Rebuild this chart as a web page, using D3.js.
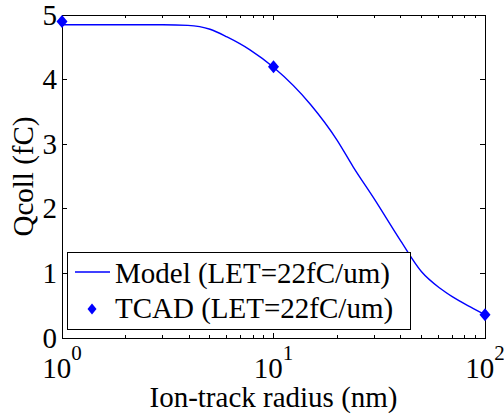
<!DOCTYPE html>
<html>
<meta charset="utf-8">
<body style="margin:0">
<svg width="504" height="418"></svg>

<script src="https://cdn.jsdelivr.net/npm/d3@7"></script>
<script>

var margin = {top: 15, right: 19, bottom: 80, left: 62},
    width = 504 - margin.left - margin.right,
    height = 418 - margin.top - margin.bottom;

var FONT = "'Liberation Serif'";

// model curve
var modelR = [1, 2, 3, 3.94, 5.01, 6.03, 7.74, 10, 15, 20, 23.8, 30, 40, 50, 61.3, 70, 87.7, 100];
var modelQ = [4.85, 4.85, 4.85, 4.84, 4.78, 4.66, 4.46, 4.19, 3.61, 3.06, 2.65, 2.15, 1.50, 1.03, 0.77, 0.64, 0.46, 0.36];

// TCAD points
var tcadR = [1, 10, 100];
var tcadQ = [4.9, 4.2, 0.36];

var yTicks = [0, 1, 2, 3, 4, 5];
var xDecades = [1, 10, 100];
var xExponents = ["0", "1", "2"];

var svg = d3.select("svg")
  .append("g").attr("transform", "translate(" + margin.left + "," + margin.top + ")");

var xScale = d3.scaleLog().domain([1, 100]).range([0, width]);
var yScale = d3.scaleLinear().domain([0, 5]).range([height, 0]);

var minorTicks = [];
[1, 10].forEach(function(d) {
  for (var k = 2; k <= 9; k++) minorTicks.push(d * k);
});

// frame
svg.append("rect")
  .attr("width", width).attr("height", height)
  .attr("fill", "none").attr("stroke", "#000").attr("stroke-width", 1)
  .attr("shape-rendering", "crispEdges");

// ticks (inward, bottom + top, left + right)
function tickSet(vals, len, horiz) {
  var g = svg.append("g").attr("stroke", "#000").attr("shape-rendering", "crispEdges");
  vals.forEach(function(v) {
    if (horiz) {
      var x = xScale(v);
      g.append("line").attr("x1", x).attr("x2", x).attr("y1", height).attr("y2", height - len);
      g.append("line").attr("x1", x).attr("x2", x).attr("y1", 0).attr("y2", len);
    } else {
      var y = yScale(v);
      g.append("line").attr("x1", 0).attr("x2", len).attr("y1", y).attr("y2", y);
      g.append("line").attr("x1", width).attr("x2", width - len).attr("y1", y).attr("y2", y);
    }
  });
}
tickSet(xDecades, 5, true);
tickSet(minorTicks, 3, true);
tickSet(yTicks, 5, false);

// y tick labels
svg.append("g").selectAll("text")
  .data(yTicks).enter().append("text")
  .style("font-family", FONT)
  .attr("x", -5)
  .attr("y", function(d) { return yScale(d); })
  .attr("dy", "0.33em")
  .attr("text-anchor", "end")
  .attr("font-size", 29)
  .text(function(d) { return d; });

// x tick labels 10^n
var xl = svg.append("g").selectAll("text")
  .data(xDecades).enter().append("text")
  .style("font-family", FONT)
  .attr("x", function(d) { return xScale(d); })
  .attr("y", height + 40)
  .attr("text-anchor", "middle")
  .attr("font-size", 29);
xl.append("tspan").text("10");
xl.append("tspan").attr("dy", -18).attr("font-size", 21)
  .text(function(d, i) { return xExponents[i]; });

// axis titles
svg.append("text")
  .style("font-family", FONT)
  .attr("x", width / 2).attr("y", height + 69)
  .attr("text-anchor", "middle").attr("font-size", 29)
  .text("Ion-track radius (nm)");

svg.append("text")
  .style("font-family", FONT)
  .attr("transform", "translate(" + (-29) + "," + (height / 2) + ") rotate(-90)")
  .attr("text-anchor", "middle").attr("font-size", 29)
  .text("Qcoll (fC)");

// model line
var line = d3.line()
  .x(function(d, i) { return xScale(modelR[i]); })
  .y(function(d) { return yScale(d); })
  .curve(d3.curveMonotoneX);

svg.append("path")
  .datum(modelQ)
  .attr("d", line)
  .attr("fill", "none").attr("stroke", "#0000ff").attr("stroke-width", 1.4);

// diamonds
function diamond(w, h) {
  return "M0," + (-h / 2) + "L" + (w / 2) + ",0L0," + (h / 2) + "L" + (-w / 2) + ",0Z";
}
svg.append("g").selectAll("path")
  .data(tcadQ).enter().append("path")
  .attr("transform", function(d, i) { return "translate(" + xScale(tcadR[i]) + "," + yScale(d) + ")"; })
  .attr("d", diamond(11, 13))
  .attr("fill", "#0000ff");

// legend
var lg = svg.append("g").attr("transform", "translate(5,237)");
lg.append("rect")
  .attr("width", 343).attr("height", 77)
  .attr("fill", "#fff").attr("stroke", "#000").attr("stroke-width", 1)
  .attr("shape-rendering", "crispEdges");
lg.append("line")
  .attr("x1", 8).attr("x2", 43).attr("y1", 20).attr("y2", 20)
  .attr("stroke", "#0000ff").attr("stroke-width", 1.4);
lg.append("path")
  .attr("transform", "translate(25,57)")
  .attr("d", diamond(9, 11))
  .attr("fill", "#0000ff");
lg.append("text").style("font-family", FONT).attr("x", 48).attr("y", 31).attr("font-size", 29)
  .text("Model (LET=22fC/um)");
lg.append("text").style("font-family", FONT).attr("x", 48).attr("y", 66).attr("font-size", 29)
  .text("TCAD (LET=22fC/um)");

</script>
</body>
</html>
